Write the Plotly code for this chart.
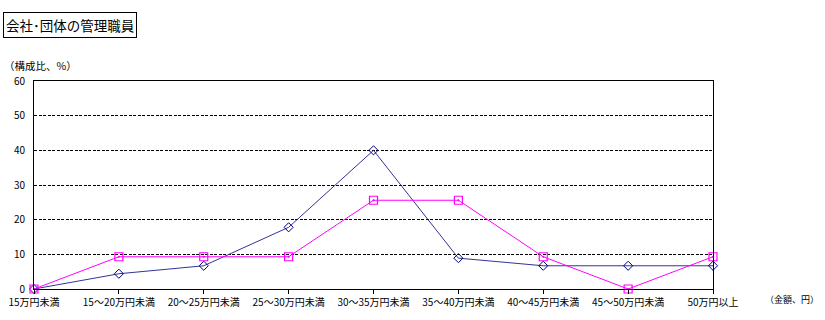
import plotly.graph_objects as go

categories = ["15万円未満", "15～20万円未満", "20～25万円未満", "25～30万円未満",
              "30～35万円未満", "35～40万円未満", "40～45万円未満", "45～50万円未満", "50万円以上"]
series_a = [0.0, 4.4, 6.7, 17.8, 40.0, 8.9, 6.7, 6.7, 6.7]
series_b = [0.0, 9.3, 9.3, 9.3, 25.6, 25.6, 9.3, 0.0, 9.3]
y_ticks = [0, 10, 20, 30, 40, 50, 60]

W, H = 825, 320
L, R, T, B = 34, 112, 81, 31
pw, ph = W - L - R, H - T - B
FONT = "Noto Sans CJK JP, sans-serif"

def px_x(x):
    return (x - L) / pw

def px_y(y):
    return (H - B - y) / ph

xs = list(range(len(categories)))

fig = go.Figure()
fig.add_trace(go.Scatter(
    x=xs, y=series_a, mode="lines+markers",
    line=dict(color="#333399", width=1),
    marker=dict(symbol="diamond-open", size=7, color="#000080", line=dict(width=1)),
    cliponaxis=False, showlegend=False))
fig.add_trace(go.Scatter(
    x=xs, y=series_b, mode="lines+markers",
    line=dict(color="#FF00FF", width=1),
    marker=dict(symbol="square-open-dot", size=8, color="#FF00FF", line=dict(width=1.2)),
    cliponaxis=False, showlegend=False))

fig.update_layout(
    width=W, height=H,
    margin=dict(l=L, r=R, t=T, b=B, pad=0, autoexpand=False),
    paper_bgcolor="white", plot_bgcolor="white",
    font=dict(family=FONT, size=10, color="black"),
    xaxis=dict(range=[0, len(categories) - 1], tickvals=xs, ticktext=categories,
               automargin=False,
               showgrid=False, zeroline=False, showline=True, linecolor="black",
               linewidth=1, mirror=True, ticks="outside", ticklen=4, tickcolor="black",
               tickfont=dict(size=10, family=FONT)),
    yaxis=dict(range=[0, 60], tickvals=y_ticks, showgrid=True, gridcolor="black",
               automargin=False,
               griddash="3px,1.5px", gridwidth=1, zeroline=False, showline=True,
               linecolor="black", linewidth=1, mirror=True, ticks="", ticklabelstandoff=6,
               tickfont=dict(size=10, family=FONT)),
    annotations=[
        dict(text="会社･団体の管理職員", xref="paper", yref="paper",
             x=px_x(3), y=px_y(12), xanchor="left", yanchor="top", showarrow=False,
             bordercolor="black", borderwidth=1, borderpad=2,
             font=dict(size=13.5, family=FONT, color="black")),
        dict(text="（構成比、%）", xref="paper", yref="paper",
             x=px_x(2), y=px_y(56), xanchor="left", yanchor="top", showarrow=False,
             font=dict(size=10.5, family=FONT, color="black")),
        dict(text="（金額、円）", xref="paper", yref="paper",
             x=px_x(821), y=px_y(291), xanchor="right", yanchor="top", showarrow=False,
             font=dict(size=9, family=FONT, color="black")),
    ],
)

fig.write_html("out.html")
